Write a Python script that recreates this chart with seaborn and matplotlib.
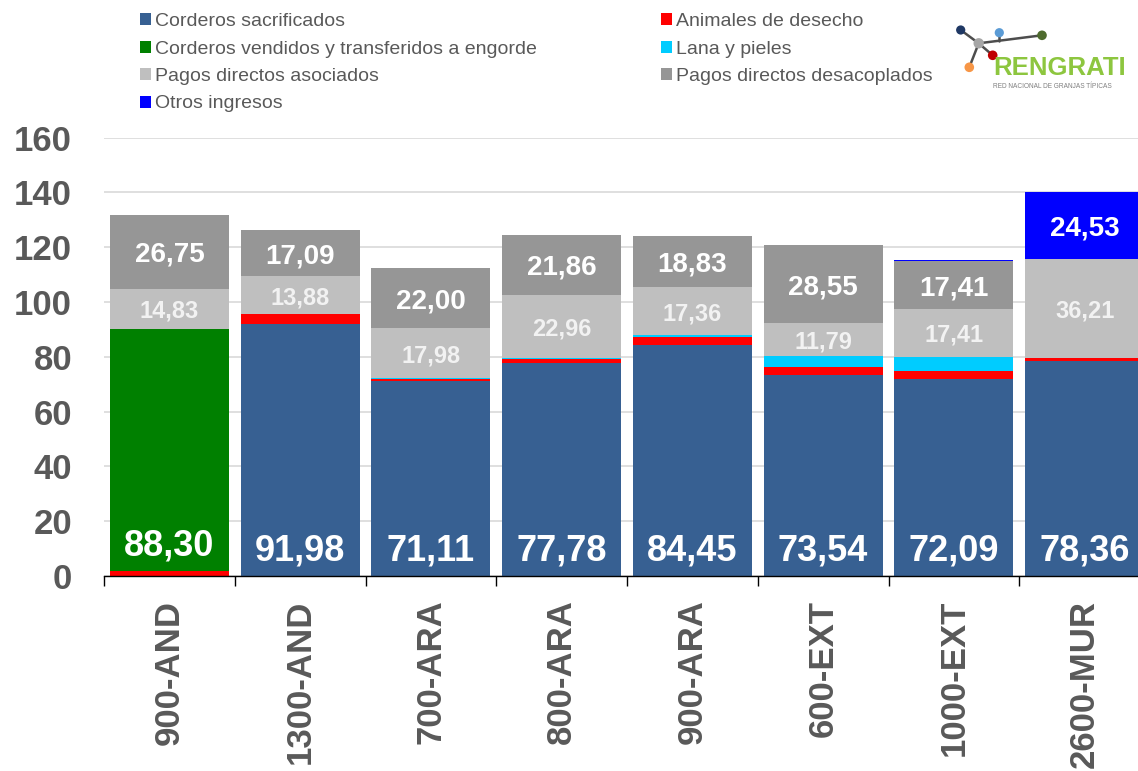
"""
RENGRATI - ingresos por oveja en granjas típicas de ovino
Stacked bar chart of income components per farm
"""
import numpy as np
import pandas as pd
import matplotlib
matplotlib.use("Agg")
import matplotlib.pyplot as plt
import seaborn as sns
from matplotlib.patches import Patch

# Data
farms = ["900-AND", "1300-AND", "700-ARA", "800-ARA", "900-ARA", "600-EXT", "1000-EXT", "2600-MUR"]
sacrificados = [0.00, 91.98, 71.11, 77.78, 84.45, 73.54, 72.09, 78.36]
desecho = [1.8, 3.5, 0.7, 1.4, 2.8, 2.9, 2.9, 1.2]
vendidos = [88.30, 0, 0, 0, 0, 0, 0, 0]
lana = [0, 0, 0.6, 0.5, 0.8, 4.0, 5.1, 0]
asociados = [14.83, 13.88, 17.98, 22.96, 17.36, 11.79, 17.41, 36.21]
desacoplados = [26.75, 17.09, 22.00, 21.86, 18.83, 28.55, 17.41, 0]
otros = [0, 0, 0, 0, 0, 0, 0.3, 24.53]

series_names = [
    "Corderos sacrificados",
    "Animales de desecho",
    "Corderos vendidos y transferidos a engorde",
    "Lana y pieles",
    "Pagos directos asociados",
    "Pagos directos desacoplados",
    "Otros ingresos",
]
series_colors = ["#376092", "#FF0000", "#008000", "#00CCFF", "#BFBFBF", "#969696", "#0000FF"]

TEXT_GRAY = "#595959"


def fmt(v):
    return f"{v:.2f}".replace(".", ",")


def make_chart():
    sns.set_style("white")
    plt.rcParams["font.family"] = ["Liberation Sans", "DejaVu Sans"]

    fig = plt.figure(figsize=(11.38, 7.71), dpi=100)
    fig.patch.set_facecolor("white")
    ax = fig.add_axes([104 / 1138, 195 / 771, 1046 / 1138, 438.3 / 771])

    layers = np.array([sacrificados, desecho, vendidos, lana, asociados, desacoplados, otros])
    tops = layers.cumsum(axis=0)
    bottoms = tops - layers

    # stacked bars: draw running totals from the top layer down
    for k in range(len(series_names) - 1, -1, -1):
        df = pd.DataFrame({"granja": farms, "total": tops[k]})
        sns.barplot(data=df, x="granja", y="total", color=series_colors[k],
                    saturation=1, width=0.91, linewidth=0, ax=ax, zorder=2)

    # value labels
    for i in range(len(farms)):
        for k in range(len(series_names)):
            v = layers[k][i]
            if v < 5:
                continue
            if k in (0, 2):
                ax.text(i, bottoms[k][i] + 10.5, fmt(v), ha="center", va="center_baseline",
                        fontsize=26, fontweight="bold", color="white", zorder=4)
            elif k == 4:
                ax.text(i, bottoms[k][i] + v / 2, fmt(v), ha="center", va="center_baseline",
                        fontsize=17, fontweight="bold", color="#F2F2F2", zorder=4)
            elif k in (5, 6):
                ax.text(i, bottoms[k][i] + v / 2, fmt(v), ha="center", va="center_baseline",
                        fontsize=20, fontweight="bold", color="white", zorder=4)

    # axes styling
    ax.set_xlim(-0.5, len(farms) - 0.5)
    ax.set_ylim(0, 160)
    ax.set_yticks(range(0, 161, 20))
    ax.set_xticks(range(len(farms)))
    ax.set_xticklabels(farms, rotation=90)
    ax.set_xticks(np.arange(-0.5, len(farms), 1), minor=True)
    ax.set_xlabel("")
    ax.set_ylabel("")

    for lab in ax.get_xticklabels() + ax.get_yticklabels():
        lab.set_fontsize(25)
        lab.set_fontweight("bold")
        lab.set_color(TEXT_GRAY)

    ax.tick_params(axis="y", which="major", left=False, length=0, pad=23)
    ax.tick_params(axis="x", which="major", bottom=False, length=0, pad=17)
    ax.tick_params(axis="x", which="minor", bottom=True, length=7.5, width=1,
                   color="black", direction="out")

    ax.set_axisbelow(True)
    ax.yaxis.grid(True, color="#D9D9D9", linewidth=1.2)
    ax.xaxis.grid(False)
    for side in ("left", "top", "right"):
        ax.spines[side].set_visible(False)
    ax.spines["bottom"].set_color("black")
    ax.spines["bottom"].set_linewidth(1)

    # legend, two columns laid out row by row
    handles = [Patch(facecolor=c, edgecolor="none") for c in series_colors]
    legend_kw = dict(loc="upper left", frameon=False, fontsize=14, labelcolor=TEXT_GRAY,
                     handlelength=0.57, handleheight=0.57, handletextpad=0.18,
                     labelspacing=0.54, borderpad=0, borderaxespad=0)
    left_idx = [0, 2, 4, 6]
    right_idx = [1, 3, 5]
    fig.legend([handles[j] for j in left_idx], [series_names[j] for j in left_idx],
               bbox_to_anchor=(140 / 1138, 1 - 13 / 771), **legend_kw)
    fig.legend([handles[j] for j in right_idx], [series_names[j] for j in right_idx],
               bbox_to_anchor=(661 / 1138, 1 - 13 / 771), **legend_kw)

    # RENGRATI logo (pixel coordinates)
    lax = fig.add_axes([0, 0, 1, 1], zorder=5)
    lax.set_xlim(0, 1138)
    lax.set_ylim(771, 0)
    lax.axis("off")
    hub = (978.7, 43.3)
    line_kw = dict(color="#4D4D4D", lw=1.8, solid_capstyle="round", zorder=1)
    lax.plot([960.7, hub[0]], [30, hub[1]], **line_kw)
    lax.plot([hub[0], 969.3], [hub[1], 67.3], **line_kw)
    lax.plot([hub[0], 992.7], [hub[1], 55.3], **line_kw)
    lax.plot([hub[0], 1042], [hub[1], 35.3], **line_kw)
    lax.plot([999.3, 999.3], [32.7, 40.7], **line_kw)
    lax.scatter([960.7, 999.3, 1042, hub[0], 992.7, 969.3],
                [30, 32.7, 35.3, hub[1], 55.3, 67.3],
                s=[44, 44, 48, 56, 48, 48],
                c=["#1F3864", "#5B9BD5", "#4E6B2E", "#A6A6A6", "#C00000", "#F79646"],
                linewidths=0, zorder=2)
    lax.text(993, 75, "RENGRATI", fontsize=18.5, fontweight="bold", color="#8DC63F",
             ha="left", va="baseline")
    lax.text(993, 86.5, "RED NACIONAL DE GRANJAS TÍPICAS", fontsize=4.7, color="#7F7F7F",
             ha="left", va="center")

    fig.savefig("out.png", dpi=100)
    plt.close("all")


if __name__ == "__main__":
    make_chart()
